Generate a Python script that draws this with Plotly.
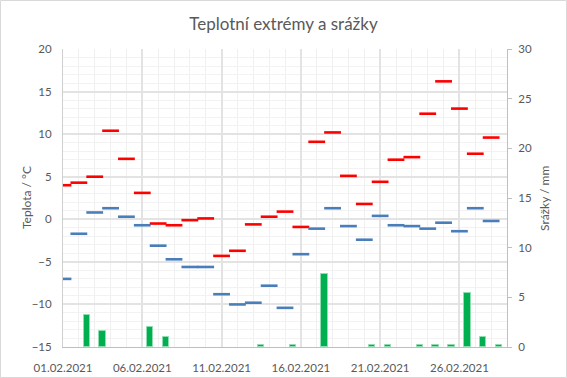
import plotly.graph_objects as go
import pandas as pd

dates = pd.date_range("2021-02-01", "2021-02-28", freq="D")
t_max = [4.0, 4.3, 5.0, 10.4, 7.1, 3.1, -0.5, -0.7, -0.1, 0.1, -4.3, -3.7, -0.6, 0.3,
         0.9, -0.9, 9.1, 10.2, 5.1, 1.8, 4.4, 7.0, 7.3, 12.4, 16.2, 13.0, 7.7, 9.6]
t_min = [-7.0, -1.7, 0.8, 1.3, 0.3, -0.7, -3.1, -4.7, -5.6, -5.6, -8.8, -10.0, -9.8, -7.8,
         -10.4, -4.1, -1.1, 1.3, -0.8, -2.4, 0.4, -0.7, -0.8, -1.1, -0.4, -1.4, 1.3, -0.2]
precip = [0.0, 3.2, 1.6, 0.0, 0.0, 2.0, 1.0, 0.0, 0.0, 0.0, 0.0, 0.0, 0.2, 0.0,
          0.2, 0.0, 7.3, 0.0, 0.0, 0.2, 0.2, 0.0, 0.2, 0.2, 0.2, 5.4, 1.0, 0.2]

FONT = "Lato"
GRAY = "#595959"
DAY_MS = 86400000

bar_x = [d + pd.Timedelta(hours=12) for d in dates]
bar_y = [v if v > 0 else None for v in precip]

fig = go.Figure()
fig.add_trace(go.Bar(x=bar_x, y=bar_y, yaxis="y2", width=0.4 * DAY_MS,
                     marker=dict(color="#00B050", line=dict(color="#8EDDB0", width=1)),
                     name="Srážky", showlegend=False))
fig.add_trace(go.Scatter(x=dates, y=t_max, mode="markers",
                         marker=dict(symbol="line-ew", size=12, line=dict(color="#FF0000", width=2.6)),
                         name="Max", showlegend=False))
fig.add_trace(go.Scatter(x=dates, y=t_min, mode="markers",
                         marker=dict(symbol="line-ew", size=12, line=dict(color="#4A7EBB", width=2.6)),
                         name="Min", showlegend=False))

L, R, T, B = 63, 507, 49, 347
W, H = 567, 378
pw, ph = R - L, B - T

def px(x):
    return (x - L) / pw

def py(y):
    return (B - y) / ph

fig.update_layout(
    width=W, height=H,
    margin=dict(l=L, r=W - R, t=T, b=H - B, pad=0, autoexpand=False),
    paper_bgcolor="white", plot_bgcolor="white",
    font=dict(family=FONT, color=GRAY, size=12),
    title=dict(text="Teplotní extrémy a srážky", x=0.5, xanchor="center",
               y=1 - 24 / H, yref="container", yanchor="middle",
               font=dict(family=FONT, size=17, color=GRAY)),
    bargap=0,
    xaxis=dict(type="date", automargin=False,
               range=[pd.Timestamp("2021-02-01"), pd.Timestamp("2021-03-01")],
               tick0="2021-02-01", dtick=5 * DAY_MS, tickformat="%d.%m.%Y",
               showgrid=True, gridcolor="#E3E3E3", gridwidth=2,
               minor=dict(dtick=DAY_MS, showgrid=True, gridcolor="#F0F0F0", gridwidth=1),
               showline=True, linecolor="#BFBFBF", linewidth=1,
               ticks="", ticklabelstandoff=10,
               tickfont=dict(size=11.5, color=GRAY, family=FONT), zeroline=False),
    yaxis=dict(range=[-15, 20], dtick=5, showgrid=True, gridcolor="#E3E3E3", gridwidth=2,
               automargin=False,
               minor=dict(dtick=1, showgrid=True, gridcolor="#F2F2F2", gridwidth=1),
               showline=True, linecolor="#CFCFCF", linewidth=1, zeroline=False,
               ticks="", ticklabelstandoff=8,
               tickfont=dict(size=11.5, color=GRAY, family=FONT)),
    yaxis2=dict(range=[0, 30], dtick=5, overlaying="y", side="right", showgrid=False,
                automargin=False,
                showline=True, linecolor="#BFBFBF", linewidth=1, zeroline=False,
                ticks="outside", ticklen=4, tickcolor="#BFBFBF", ticklabelstandoff=4,
                tickfont=dict(size=11.5, color=GRAY, family=FONT)),
)

fig.add_annotation(text="Teplota / °C", xref="paper", yref="paper",
                   x=px(26), y=py(198), textangle=-90, showarrow=False,
                   xanchor="center", yanchor="middle",
                   font=dict(family=FONT, size=12, color=GRAY))
fig.add_annotation(text="Srážky / mm", xref="paper", yref="paper",
                   x=px(544), y=py(199), textangle=-90, showarrow=False,
                   xanchor="center", yanchor="middle",
                   font=dict(family=FONT, size=12, color=GRAY))

fig.add_shape(type="rect", xref="paper", yref="paper",
              x0=px(0.5), x1=px(566.5), y0=py(377.5), y1=py(0.5),
              line=dict(color="#D9D9D9", width=1), fillcolor="rgba(0,0,0,0)", layer="below")

fig.write_html("out.html", config={"displayModeBar": False},
               post_script="document.body.style.margin='0';document.body.style.overflow='hidden';")
